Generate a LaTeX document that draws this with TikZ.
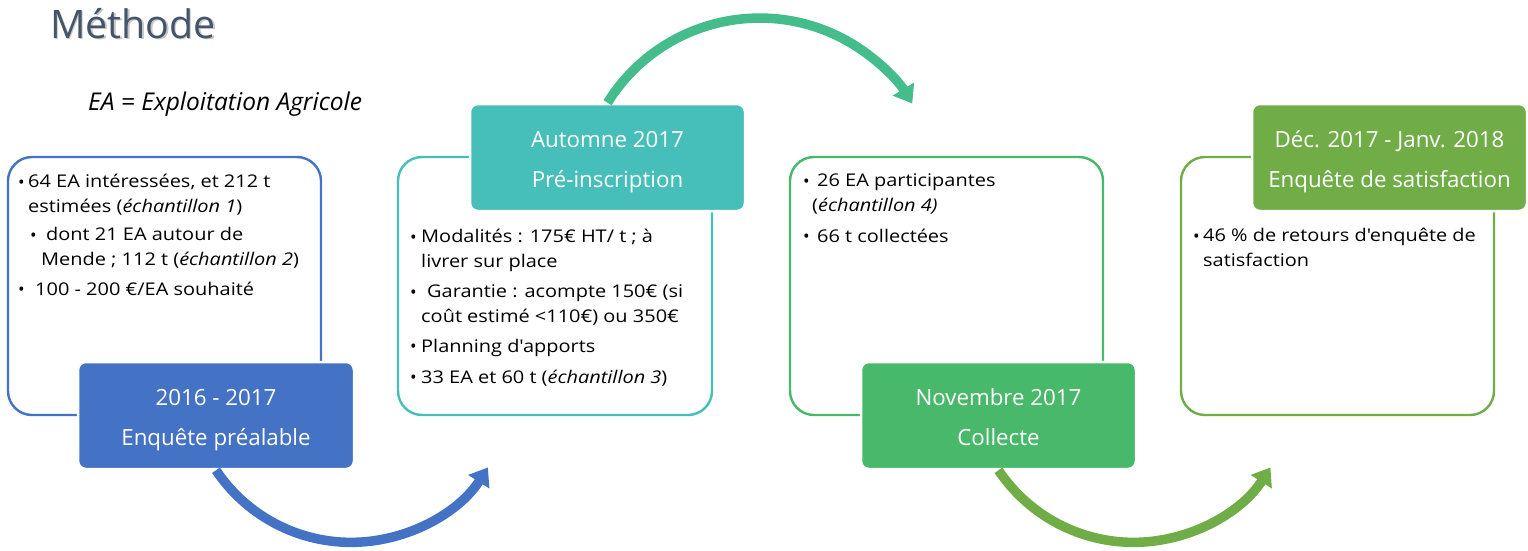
\documentclass[tikz,border=0pt]{standalone}
\usepackage{fontspec}
\setmainfont{Open Sans}
\newfontfamily\bodyfont{Open Sans}[FakeStretch=1.14]
\usetikzlibrary{arrows.meta}
\definecolor{cblue}{HTML}{4472C4}
\definecolor{cteal}{HTML}{46BFBA}
\definecolor{cgreen}{HTML}{48B86A}
\definecolor{clgreen}{HTML}{70AD47}
\definecolor{carc}{HTML}{44BC8B}
\definecolor{ctitle}{HTML}{44546A}
\tikzset{
  outbox/.style={draw, line width=2.4pt, rounded corners=24pt, fill=white, inner sep=0pt},
  hdrbox/.style={draw=white, line width=2.5pt, rounded corners=8pt, text=white, inner sep=0pt,
    align=center, font=\fontsize{22.3}{39.5}\selectfont, text height=60pt, text depth=1pt},
  body/.style={anchor=base west, inner sep=0pt, font=\bodyfont\fontsize{17.5}{24.5}\selectfont, align=left},
  bul/.style={anchor=base west, inner sep=0pt, font=\fontsize{17.5}{24.5}\selectfont},
  flow/.style={line width=9.5pt, -{Triangle[width=24pt,length=17pt]}},
}
\begin{document}
\begin{tikzpicture}[x=1pt,y=-1pt]
\useasboundingbox (0,0) rectangle (1528,551);
% title
\node[anchor=base west, inner sep=0pt, text=black!22, font=\fontsize{39.3}{44}\selectfont] at (51.5,40) {Méthode};
\node[anchor=base west, inner sep=0pt, text=ctitle, font=\fontsize{39.3}{44}\selectfont] (title) at (50,38.5) {Méthode};
\node[anchor=base west, inner sep=0pt, font=\fontsize{24.5}{28}\selectfont\itshape] (ea) at (88,110) {EA = Exploitation Agricole};

% outline boxes
\node[outbox, draw=cblue, minimum width=313pt, minimum height=258pt] (o1) at (164.5,286) {};
\node[outbox, draw=cteal, minimum width=314pt, minimum height=258pt] (o2) at (555,286) {};
\node[outbox, draw=cgreen, minimum width=313pt, minimum height=258pt] (o3) at (946.5,286) {};
\node[outbox, draw=clgreen, minimum width=313pt, minimum height=258pt] (o4) at (1337.5,286) {};

% header boxes
\node[hdrbox, fill=cblue, minimum width=276pt, minimum height=107pt] (h1) at (216,415.5) {2016 - 2017\\Enquête préalable};
\node[hdrbox, fill=cteal, minimum width=275pt, minimum height=107pt] (h2) at (607.5,157.5) {Automne 2017\\Pré-inscription};
\node[hdrbox, fill=cgreen, minimum width=275pt, minimum height=107pt] (h3) at (998.5,415.5) {Novembre 2017\\Collecte};
\node[hdrbox, fill=clgreen, minimum width=275pt, minimum height=107pt] (h4) at (1389.5,157.5) {Déc. 2017 - Janv. 2018\\Enquête de satisfaction};

% box 1 text (anchor = baseline of the last line)
\node[bul] (b11) at (18,188) {•};
\node[body] (t11) at (28,212) {64 EA intéressées, et 212 t\\estimées (\textit{échantillon 1})};
\node[bul] (b12) at (30,241) {•};
\node[body] (t12) at (41,265) {\hspace{5pt}dont 21 EA autour de\\Mende ; 112 t (\textit{échantillon 2})};
\node[bul] (b13) at (18,295) {•};
\node[body] (t13) at (35,295) {100 - 200 €/EA souhaité};

% box 2 text
\node[bul] (b21) at (410,243) {•};
\node[body] (t21) at (421,267) {Modalités : 175€ HT/ t ; à\\livrer sur place};
\node[bul] (b22) at (410,298) {•};
\node[body] (t22) at (421,322) {\hspace{6pt}Garantie : acompte 150€ (si\\coût estimé <110€) ou 350€};
\node[bul] (b23) at (410,352) {•};
\node[body] (t23) at (421,352) {Planning d'apports};
\node[bul] (b24) at (410,383) {•};
\node[body] (t24) at (421,383) {33 EA et 60 t (\textit{échantillon 3})};

% box 3 text
\node[bul] (b31) at (803,187) {•};
\node[body] (t31) at (812,211) {\hspace{5pt}26 EA participantes\\(\textit{échantillon 4)}};
\node[bul] (b32) at (803,242) {•};
\node[body] (t32) at (817,242) {66 t collectées};

% box 4 text
\node[bul] (b41) at (1193,242) {•};
\node[body] (t41) at (1203,266) {46 \% de retours d'enquête de\\satisfaction};

% arrow end points
\coordinate (e1) at (487,472);
\coordinate (e2) at (912,100);
\coordinate (e3) at (1270,472);

% flow arrows
\draw[flow, draw=cblue] (h1.south) arc[start angle=146.2, end angle=32.6, radius=162.5];
\draw[flow, draw=carc] (h2.north) arc[start angle=-148.2, end angle=-31.5, radius=179];
\draw[flow, draw=clgreen] (h3.south) arc[start angle=146.2, end angle=32.6, radius=162.5];
\end{tikzpicture}
\end{document}
